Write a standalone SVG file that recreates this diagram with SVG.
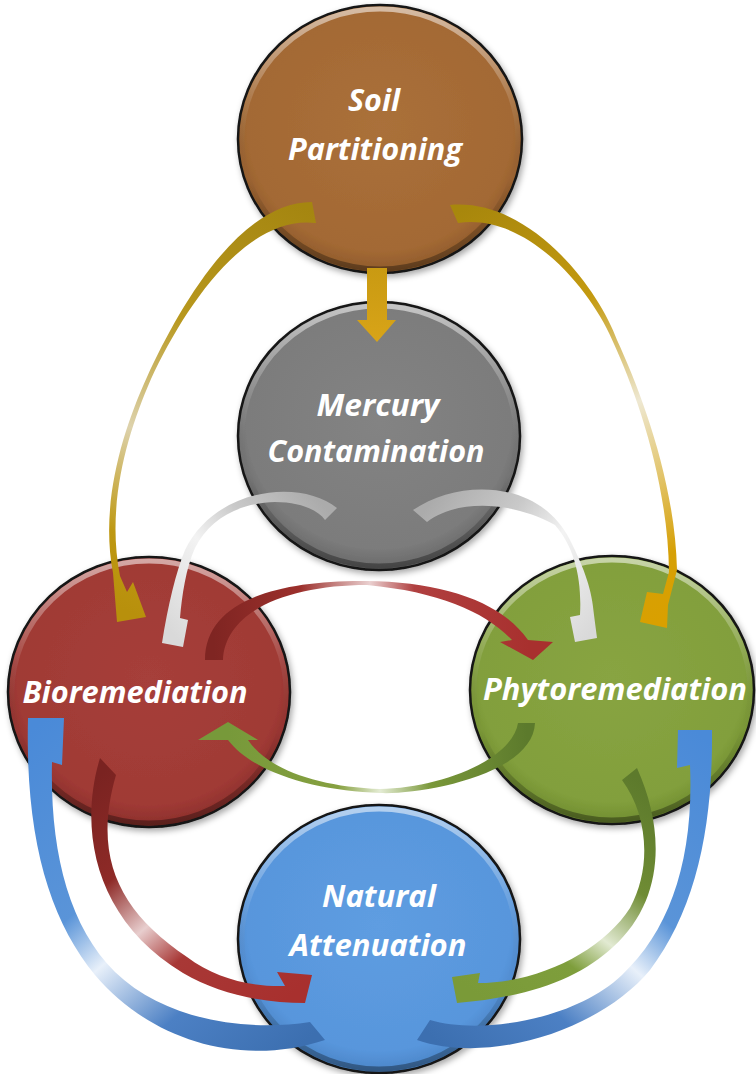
<svg xmlns="http://www.w3.org/2000/svg" width="756" height="1074" viewBox="0 0 756 1074">
<defs>
<style>
.lbl{font-family:"Open Sans","Noto Sans","DejaVu Sans",sans-serif;font-weight:700;font-style:italic;font-size:30px;fill:#ffffff;text-anchor:middle}
.edge{stroke:#151515;stroke-width:2.5}
.rim{fill:none;stroke:url(#rim);stroke-width:5}
</style>
<filter id="sh" x="-10%" y="-10%" width="125%" height="125%">
<feDropShadow dx="2" dy="3" stdDeviation="3" flood-color="#000" flood-opacity="0.35"/>
</filter>
<linearGradient id="rim" x1="0" y1="0" x2="0" y2="1">
<stop offset="0" stop-color="#fff" stop-opacity="0.55"/>
<stop offset="0.35" stop-color="#fff" stop-opacity="0.12"/>
<stop offset="0.65" stop-color="#000" stop-opacity="0"/>
<stop offset="1" stop-color="#000" stop-opacity="0.35"/>
</linearGradient>
<radialGradient id="gSoil" cx="0.5" cy="0.45" r="0.55"><stop offset="0" stop-color="#AA703A"/><stop offset="0.85" stop-color="#A36934"/><stop offset="1" stop-color="#8E5A2B"/></radialGradient>
<radialGradient id="gMerc" cx="0.5" cy="0.45" r="0.55"><stop offset="0" stop-color="#838383"/><stop offset="0.85" stop-color="#7C7C7C"/><stop offset="1" stop-color="#686868"/></radialGradient>
<radialGradient id="gBio" cx="0.5" cy="0.45" r="0.55"><stop offset="0" stop-color="#A63F3A"/><stop offset="0.85" stop-color="#A03A35"/><stop offset="1" stop-color="#8A2F2B"/></radialGradient>
<radialGradient id="gPhy" cx="0.5" cy="0.45" r="0.55"><stop offset="0" stop-color="#88A442"/><stop offset="0.85" stop-color="#829F3C"/><stop offset="1" stop-color="#6F8C30"/></radialGradient>
<radialGradient id="gNat" cx="0.5" cy="0.45" r="0.55"><stop offset="0" stop-color="#5E9DE1"/><stop offset="0.85" stop-color="#5896DC"/><stop offset="1" stop-color="#4A84C6"/></radialGradient>

<linearGradient id="aGoldL" gradientUnits="userSpaceOnUse" x1="314" y1="212" x2="125" y2="610">
<stop offset="0" stop-color="#A58610"/><stop offset="0.35" stop-color="#B8981E"/><stop offset="0.62" stop-color="#DDD2AC"/><stop offset="0.85" stop-color="#BE9812"/><stop offset="1" stop-color="#B8900C"/></linearGradient>
<linearGradient id="aGoldR" gradientUnits="userSpaceOnUse" x1="454" y1="214" x2="660" y2="620">
<stop offset="0" stop-color="#A8870C"/><stop offset="0.3" stop-color="#C49A10"/><stop offset="0.55" stop-color="#EEE8D2"/><stop offset="0.72" stop-color="#E2C46A"/><stop offset="0.88" stop-color="#D6A006"/><stop offset="1" stop-color="#D9A000"/></linearGradient>
<linearGradient id="aGoldD" x1="0" y1="0" x2="0" y2="1"><stop offset="0" stop-color="#C99A12"/><stop offset="1" stop-color="#D8A418"/></linearGradient>
<linearGradient id="aGreyL" gradientUnits="userSpaceOnUse" x1="331" y1="514" x2="178" y2="640">
<stop offset="0" stop-color="#ABABAB"/><stop offset="0.35" stop-color="#C9C9C9"/><stop offset="0.6" stop-color="#F3F3F3"/><stop offset="1" stop-color="#D9D9D9"/></linearGradient>
<linearGradient id="aGreyR" gradientUnits="userSpaceOnUse" x1="420" y1="516" x2="585" y2="640">
<stop offset="0" stop-color="#ABABAB"/><stop offset="0.35" stop-color="#C9C9C9"/><stop offset="0.6" stop-color="#F3F3F3"/><stop offset="1" stop-color="#D9D9D9"/></linearGradient>
<linearGradient id="aRedBP" gradientUnits="userSpaceOnUse" x1="214" y1="660" x2="530" y2="650">
<stop offset="0" stop-color="#7F2522"/><stop offset="0.28" stop-color="#9C302C"/><stop offset="0.5" stop-color="#EAD0D0"/><stop offset="0.64" stop-color="#B04040"/><stop offset="1" stop-color="#A8302E"/></linearGradient>
<linearGradient id="aGrnPB" gradientUnits="userSpaceOnUse" x1="527" y1="723" x2="228" y2="735">
<stop offset="0" stop-color="#5C7A2C"/><stop offset="0.33" stop-color="#7A983A"/><stop offset="0.5" stop-color="#E4ECD4"/><stop offset="0.64" stop-color="#86A040"/><stop offset="1" stop-color="#77993A"/></linearGradient>
<linearGradient id="aRedBN" gradientUnits="userSpaceOnUse" x1="109" y1="766" x2="300" y2="988">
<stop offset="0" stop-color="#7A2321"/><stop offset="0.3" stop-color="#8E2A27"/><stop offset="0.5" stop-color="#E8CECE"/><stop offset="0.66" stop-color="#A83836"/><stop offset="1" stop-color="#A8302E"/></linearGradient>
<linearGradient id="aGrnPN" gradientUnits="userSpaceOnUse" x1="630" y1="774" x2="468" y2="990">
<stop offset="0" stop-color="#5D7A2C"/><stop offset="0.33" stop-color="#6F8C34"/><stop offset="0.55" stop-color="#E2EAD2"/><stop offset="0.7" stop-color="#7E9E3C"/><stop offset="1" stop-color="#7A9A38"/></linearGradient>
<linearGradient id="aBluBN" gradientUnits="userSpaceOnUse" x1="318" y1="1030" x2="46" y2="718">
<stop offset="0" stop-color="#3C6FB0"/><stop offset="0.25" stop-color="#4C80C4"/><stop offset="0.46" stop-color="#E8F0FA"/><stop offset="0.6" stop-color="#5A94D8"/><stop offset="1" stop-color="#4A8AD8"/></linearGradient>
<linearGradient id="aBluNP" gradientUnits="userSpaceOnUse" x1="424" y1="1030" x2="695" y2="730">
<stop offset="0" stop-color="#3C6FB0"/><stop offset="0.25" stop-color="#4C80C4"/><stop offset="0.46" stop-color="#E8F0FA"/><stop offset="0.6" stop-color="#5A94D8"/><stop offset="1" stop-color="#4A8AD8"/></linearGradient>
</defs>

<rect width="756" height="1074" fill="#ffffff"/>

<g id="node-soil">
<ellipse cx="380" cy="139" rx="142" ry="134" fill="url(#gSoil)" class="edge" filter="url(#sh)"/>
<ellipse cx="380" cy="139" rx="138" ry="130" class="rim"/>
<text class="lbl" x="374" y="111" textLength="52" lengthAdjust="spacingAndGlyphs">Soil</text>
<text class="lbl" x="375" y="160" textLength="174" lengthAdjust="spacingAndGlyphs">Partitioning</text>
</g>

<g id="node-mercury">
<ellipse cx="379" cy="436" rx="141" ry="134" fill="url(#gMerc)" class="edge" filter="url(#sh)"/>
<ellipse cx="379" cy="436" rx="137" ry="130" class="rim"/>
<text class="lbl" x="378" y="416" textLength="123" lengthAdjust="spacingAndGlyphs">Mercury</text>
<text class="lbl" x="376" y="462" textLength="217" lengthAdjust="spacingAndGlyphs">Contamination</text>
</g>

<g id="node-bio">
<ellipse cx="149" cy="692" rx="141" ry="135" fill="url(#gBio)" class="edge" filter="url(#sh)"/>
<ellipse cx="149" cy="692" rx="137" ry="131" class="rim"/>
<text class="lbl" x="135" y="703" textLength="225" lengthAdjust="spacingAndGlyphs">Bioremediation</text>
</g>

<g id="node-phyto">
<ellipse cx="612" cy="690" rx="142" ry="134" fill="url(#gPhy)" class="edge" filter="url(#sh)"/>
<ellipse cx="612" cy="690" rx="138" ry="130" class="rim"/>
<text class="lbl" x="615" y="700" textLength="264" lengthAdjust="spacingAndGlyphs">Phytoremediation</text>
</g>

<g id="node-natural">
<ellipse cx="379" cy="939" rx="141" ry="134" fill="url(#gNat)" class="edge" filter="url(#sh)"/>
<ellipse cx="379" cy="939" rx="137" ry="130" class="rim"/>
<text class="lbl" x="379" y="907" textLength="114" lengthAdjust="spacingAndGlyphs">Natural</text>
<text class="lbl" x="378" y="956" textLength="177" lengthAdjust="spacingAndGlyphs">Attenuation</text>
</g>

<g id="connectors">
<path id="soil-to-mercury" fill="url(#aGoldD)" d="M367 268 L387 268 L387 320 L396 320 L377 342 L357 320 L367 320 Z"/>
<path id="soil-to-bio" fill="url(#aGoldL)" d="M312 202 C240 202 180 305 147 377 C122 432 100 505 113 573 L117 622 L146 617 L133 582 L127 592 L120 576 C106 505 127 434 151 379 C184 308 246 214 316 223 Z"/>
<path id="soil-to-phyto" fill="url(#aGoldR)" d="M450 205 C530 198 598 288 617 340 C640 390 675 480 677 570 L668 605 L667 628 L640 622 L647 592 L663 594 L669 572 C668 482 636 392 614 344 C595 296 530 212 458 223 Z"/>
<path id="mercury-to-bio" fill="url(#aGreyL)" d="M337 508 C300 478 215 488 185 550 C176 572 168 605 162 643 L183 647 L188 620 L180 618 C182 595 186 568 195 548 C210 518 240 503 275 502 C300 502 318 510 325 520 Z"/>
<path id="mercury-to-phyto" fill="url(#aGreyR)" d="M413 510 C460 478 540 480 570 540 C585 570 592 590 594 615 L597 638 L575 642 L570 617 L580 615 C582 580 575 548 555 525 C510 500 455 500 427 522 Z"/>
<path id="bio-to-phyto" fill="url(#aRedBP)" d="M205 660 C205 600 280 580 367 581 C440 582 500 600 528 640 L553 642 L533 660 L500 642 L512 640 C485 612 440 592 367 585 C290 585 225 610 223 660 Z"/>
<path id="phyto-to-bio" fill="url(#aGrnPB)" d="M535 723 C533 775 420 795 380 793 C320 791 255 775 228 740 L198 740 L228 722 L258 740 L248 740 C268 770 320 787 380 789 C440 788 512 760 518 723 Z"/>
<path id="bio-to-natural" fill="url(#aRedBN)" d="M100 758 C78 830 95 920 183 973 C220 995 265 1003 305 1003 L312 975 L277 972 L285 986 C250 987 215 978 187 957 C120 912 92 858 116 775 Z"/>
<path id="phyto-to-natural" fill="url(#aGrnPN)" d="M637 768 C665 830 665 900 613 947 C580 978 530 997 457 1003 L452 977 L480 973 L478 983 C540 983 603 950 630 908 C652 868 648 815 622 780 Z"/>
<path id="natural-to-bio" fill="url(#aBluBN)" d="M325 1040 C240 1068 150 1040 95 975 C50 920 25 840 28 718 L64 718 L62 765 L52 762 C50 850 68 925 115 972 C165 1020 245 1032 310 1022 Z"/>
<path id="natural-to-phyto" fill="url(#aBluNP)" d="M417 1040 C490 1065 600 1030 650 970 C695 910 713 830 712 730 L678 730 L677 768 L690 765 C694 860 670 930 622 975 C575 1020 480 1035 430 1020 Z"/>
</g>
</svg>
